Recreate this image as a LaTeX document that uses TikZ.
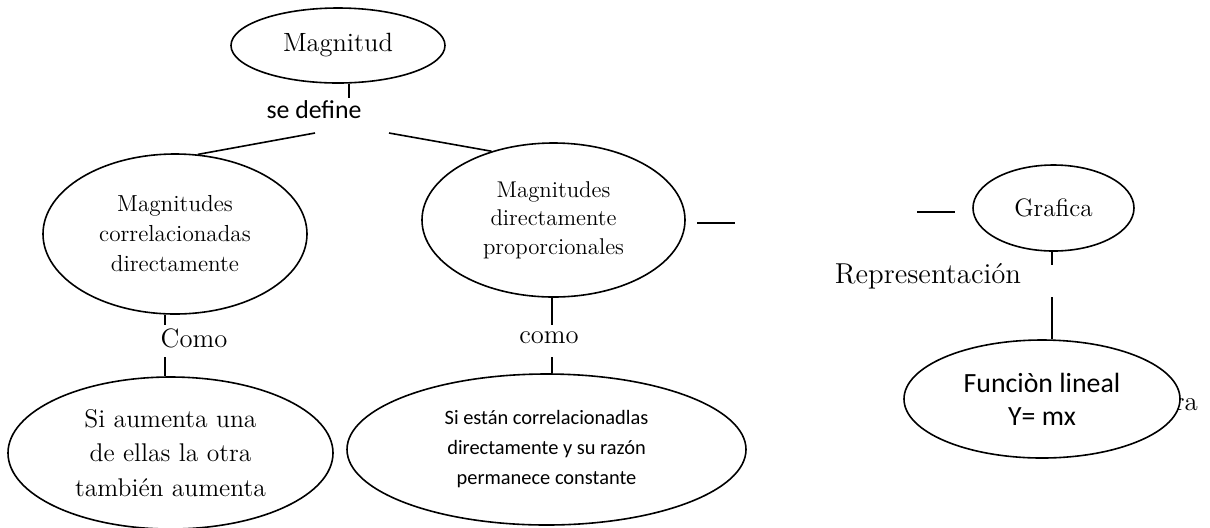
\documentclass[tikz,border=0pt]{standalone}
\usepackage{fontspec}
\newfontfamily\calibri{Carlito}
\usepackage{tikz}
\usetikzlibrary{shapes.geometric, positioning}
\tikzset{
    % ellipses with white fill, thin black outline
    concept/.style = {ellipse, draw, line width=0.8pt, inner sep=0pt, align=center, fill=white},
    word/.style = {inner sep=0pt, align=center},
    link/.style = {line width=0.8pt}
}

\begin{document}
\begin{tikzpicture}[x=0.5pt, y=-0.5pt]
\useasboundingbox (0,0) rectangle (1210,527);

% Nodes
\node[word, font=\fontsize{13.5}{15}\selectfont] (ra) at (1186,405) {ra};
\node[concept, minimum width=107pt, minimum height=37.5pt, font=\fontsize{13.2}{15}\selectfont] (magnitud) at (338,45.5) {Magnitud};
\node[word, font=\calibri\fontsize{12.9}{15}\selectfont] (se_define) at (314,110) {se define};
\node[concept, minimum width=132pt, minimum height=80pt, font=\fontsize{11.6}{15}\selectfont] (correlacionadas) at (175,234) {Magnitudes\\correlacionadas\\directamente};
\node[concept, minimum width=131.5pt, minimum height=77pt, font=\fontsize{11.4}{14.25}\selectfont] (proporcionales) at (553.5,220) {Magnitudes\\directamente\\proporcionales};
\node[concept, minimum width=80.5pt, minimum height=43pt, font=\fontsize{12.6}{15}\selectfont] (grafica) at (1053.5,208) {Grafica};
\node[word, font=\fontsize{14.4}{16}\selectfont] (representacion) at (928,276) {Representación};
\node[concept, minimum width=138pt, minimum height=59pt, font=\calibri\fontsize{13.9}{16.5}\selectfont] (funcion) at (1042,399) {Funciòn lineal\\Y= mx};
\node[word, font=\fontsize{13.3}{15}\selectfont] (como_left) at (194,338) {Como};
\node[word, font=\fontsize{13.3}{15}\selectfont] (como_mid) at (549,338) {como};
\node[concept, minimum width=162.5pt, minimum height=76pt, font=\fontsize{12.8}{17.25}\selectfont] (aumenta) at (170.5,453) {Si aumenta una\\de ellas la otra\\también aumenta};
\node[concept, minimum width=199.5pt, minimum height=75.5pt, font=\calibri\fontsize{10.2}{15}\selectfont] (razon) at (546.5,449.5) {Si están correlacionadlas\\directamente y su razón\\permanece constante};

% Free ends
\coordinate (m_end) at (349,98);
\coordinate (d_left) at (315,133);
\coordinate (d_right) at (389,133);
\coordinate (p_out) at (697,223);
\coordinate (p_out_end) at (735,223);
\coordinate (g_in) at (917,212);
\coordinate (g_in_end) at (955,212);
\coordinate (g_end) at (1052,265);
\coordinate (f_start) at (1052,297);
\coordinate (c_end) at (165,325);
\coordinate (c_start) at (165,357);
\coordinate (p_end) at (552,325);
\coordinate (p_start) at (552,357);

% Lines
\draw[link] (magnitud.south -| m_end) -- (m_end);
\draw[link] (d_left) -- (correlacionadas.74);
\draw[link] (d_right) -- (proporcionales.132);
\draw[link] (p_out) -- (p_out_end);
\draw[link] (g_in) -- (g_in_end);
\draw[link] (grafica.south -| g_end) -- (g_end);
\draw[link] (f_start) -- (funcion.north -| f_start);
\draw[link] (correlacionadas.south -| c_end) -- (c_end);
\draw[link] (c_start) -- (aumenta.north -| c_start);
\draw[link] (proporcionales.south -| p_end) -- (p_end);
\draw[link] (p_start) -- (razon.north -| p_start);

\end{tikzpicture}
\end{document}
